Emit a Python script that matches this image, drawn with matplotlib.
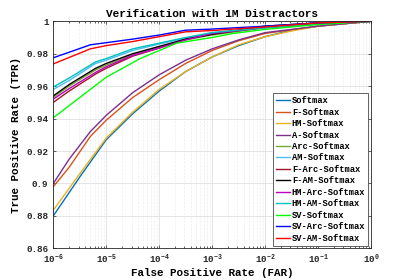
import matplotlib
matplotlib.use("Agg")
import matplotlib.pyplot as plt
import numpy as np
from matplotlib.ticker import FixedLocator, LogLocator, NullFormatter

# log10(FAR) sample points and TPR values
names = [
    "Softmax", "F-Softmax", "HM-Softmax", "A-Softmax", "Arc-Softmax", "AM-Softmax",
    "F-Arc-Softmax", "F-AM-Softmax", "HM-Arc-Softmax", "HM-AM-Softmax",
    "SV-Softmax", "SV-Arc-Softmax", "SV-AM-Softmax",
]
colors = [
    (0.0, 0.447, 0.741), (0.85, 0.325, 0.098), (0.929, 0.694, 0.125),
    (0.494, 0.184, 0.556), (0.466, 0.674, 0.188), (0.301, 0.745, 0.933),
    (0.635, 0.078, 0.184), "k", "m", "c", (0.0, 1.0, 0.0), "b", "r",
]

lx_low = [-6, -5.5, -5, -4.5, -4, -3.5, -3, -2.5, -2, -1.5, -1, 0]
softmax = [0.880, 0.904, 0.927, 0.943, 0.957, 0.969, 0.978, 0.985, 0.9905, 0.9945, 0.997, 1.0]
hm_softmax = [0.8835, 0.906, 0.928, 0.944, 0.958, 0.969, 0.978, 0.9855, 0.9905, 0.994, 0.997, 1.0]

lx_mid = [-6, -5.7, -5.3, -5, -4.5, -4, -3.5, -3, -2.5, -2, -1, 0]
a_softmax = [0.900, 0.915, 0.932, 0.942, 0.956, 0.967, 0.976, 0.983, 0.9885, 0.993, 0.997, 1.0]
f_softmax = [0.898, 0.910, 0.929, 0.939, 0.953, 0.964, 0.974, 0.982, 0.988, 0.9925, 0.997, 1.0]

lx_high = [-6, -5.7, -5.2, -5, -4.5, -4, -3.5, -3, -2, -1, 0]
arc_softmax = [0.953, 0.960, 0.970, 0.973, 0.9795, 0.984, 0.9885, 0.9915, 0.996, 0.9985, 1.0]
am_softmax = [0.958, 0.9635, 0.974, 0.976, 0.982, 0.986, 0.9895, 0.993, 0.996, 0.9985, 1.0]
f_arc = [0.950, 0.957, 0.9675, 0.971, 0.9785, 0.9835, 0.989, 0.992, 0.9965, 0.999, 1.0]
f_am = [0.954, 0.961, 0.971, 0.974, 0.980, 0.9845, 0.989, 0.992, 0.997, 0.999, 1.0]
hm_arc = [0.952, 0.9585, 0.9685, 0.972, 0.979, 0.9835, 0.9885, 0.9925, 0.996, 0.9985, 1.0]
hm_am = [0.9595, 0.965, 0.975, 0.977, 0.983, 0.9865, 0.990, 0.993, 0.996, 0.9985, 1.0]

lx_sv = [-6, -5.7, -5, -4.36, -3.67, -3, -2.6, -2, -1, 0]
sv_softmax = [0.9405, 0.948, 0.9655, 0.977, 0.9865, 0.990, 0.9925, 0.995, 0.998, 1.0]

lx_top = [-6, -5.3, -5, -4.5, -4, -3.5, -3, -2, -1, 0]
sv_arc = [0.9775, 0.9855, 0.9868, 0.989, 0.9915, 0.9945, 0.9952, 0.997, 0.999, 1.0]
sv_am = [0.9737, 0.9830, 0.985, 0.9875, 0.9905, 0.9935, 0.9943, 0.9965, 0.999, 1.0]

series = [
    (lx_low, softmax), (lx_mid, f_softmax), (lx_low, hm_softmax), (lx_mid, a_softmax),
    (lx_high, arc_softmax), (lx_high, am_softmax), (lx_high, f_arc), (lx_high, f_am),
    (lx_high, hm_arc), (lx_high, hm_am), (lx_sv, sv_softmax), (lx_top, sv_arc), (lx_top, sv_am),
]

x_ticks = [1e-6, 1e-5, 1e-4, 1e-3, 1e-2, 1e-1, 1e0]
y_ticks = [0.86, 0.88, 0.90, 0.92, 0.94, 0.96, 0.98, 1.0]
y_tick_labels = ["0.86", "0.88", "0.9", "0.92", "0.94", "0.96", "0.98", "1"]

plt.rcParams["font.family"] = ["Liberation Mono", "DejaVu Sans Mono"]
plt.rcParams["font.weight"] = "bold"

fig = plt.figure(figsize=(4.11, 2.8), dpi=100)
ax = fig.add_axes([0.1297, 0.1132, 0.7730, 0.8108])

for (lx, tpr), name, c in zip(series, names, colors):
    ax.plot(10.0 ** np.asarray(lx), tpr, color=c, lw=1.0, label=name)

ax.set_xscale("log")
ax.set_xlim(1e-6, 1)
ax.set_ylim(0.86, 1.0)
ax.yaxis.set_major_locator(FixedLocator(y_ticks))
ax.set_yticklabels(y_tick_labels)
ax.xaxis.set_major_locator(FixedLocator(x_ticks))
ax.xaxis.set_minor_locator(LogLocator(base=10, subs=np.arange(2, 10), numticks=20))
ax.xaxis.set_minor_formatter(NullFormatter())

ax.grid(True, which="major", color="#e0e0e0", lw=0.6)
ax.grid(True, which="minor", axis="x", color="#eeeeee", lw=0.5, ls="--")
ax.set_axisbelow(True)
ax.tick_params(which="both", direction="in", top=True, right=True, labelsize=6.7, colors="#262626",
               length=2.5, width=0.5)
ax.tick_params(which="minor", length=1.5)
for s in ax.spines.values():
    s.set_color("#262626")
    s.set_linewidth(0.6)

ax.set_title("Verification with 1M Distractors", fontsize=8, fontweight="bold", pad=3)
ax.set_xlabel("False Positive Rate (FAR)", fontsize=7.8, fontweight="bold", labelpad=1)
ax.set_ylabel("True Positive Rate (TPR)", fontsize=7.8, fontweight="bold")
ax.yaxis.set_label_coords(-0.102, 0.5)

leg = ax.legend(loc="lower right", fontsize=6.3, handlelength=1.6, handletextpad=0.2,
                labelspacing=0.28, borderpad=0.35, borderaxespad=0.3, fancybox=False,
                framealpha=1, edgecolor="#262626")
leg.get_frame().set_linewidth(0.5)

fig.savefig("out.png", dpi=100)
